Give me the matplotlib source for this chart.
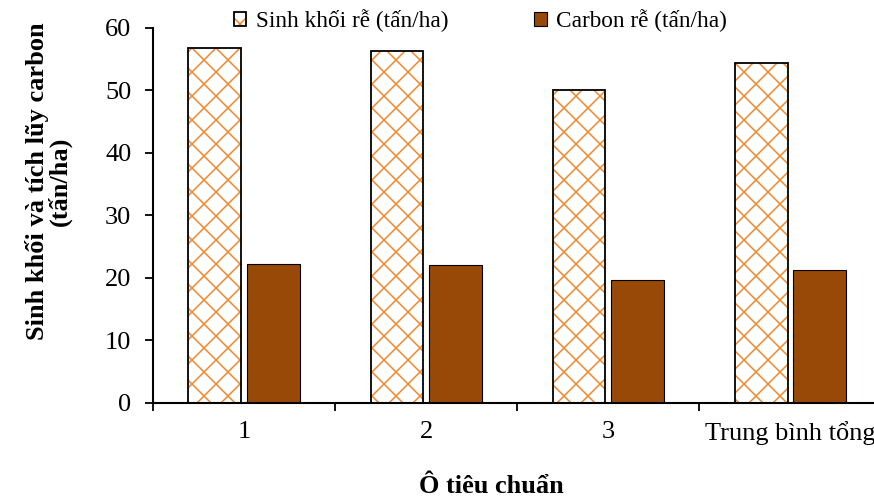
import matplotlib.pyplot as plt
from matplotlib.patches import Patch
import numpy as np

# drawn at 72 dpi so the hatch cell is 72 px wide; S converts sizes
DPI = 72
S = 100 / DPI

plt.rcParams['font.family'] = ['Liberation Serif', 'DejaVu Serif']
plt.rcParams['hatch.linewidth'] = 1.1 * S

# Root biomass and carbon per plot (tons/ha)
categories = ['1', '2', '3', 'Trung bình tổng']
sinh_khoi = [56.8, 56.3, 50.1, 54.4]
carbon = [22.2, 22.1, 19.7, 21.3]

orange = '#F2872F'
brown = '#984807'

fig = plt.figure(figsize=(874 / DPI, 498 / DPI), dpi=DPI)
ax = fig.add_axes([0.175, 0.191, 0.825, 0.753])

x = np.arange(len(categories))
w = 0.29
off = 0.16

# hatched biomass bars: hatch layer first, black outline on top
ax.bar(x - off, sinh_khoi, w, color='white', edgecolor=orange, hatch='x', linewidth=0)
ax.bar(x - off, sinh_khoi, w, fill=False, edgecolor='black', linewidth=1.3 * S)
ax.bar(x + off, carbon, w, color=brown, edgecolor='black', linewidth=0.8 * S)

ax.set_xlim(-0.5, 3.46)
ax.set_ylim(0, 60)
ax.set_yticks(range(0, 61, 10))
ax.set_xticks(np.arange(-0.5, 3.5, 1.0), minor=False)
ax.set_xticklabels([])
ax.set_xticks(x, minor=True)
ax.set_xticklabels(categories, minor=True)
ax.tick_params(axis='x', which='minor', length=0, labelsize=19 * S, pad=13 * S)
ax.tick_params(axis='x', which='major', length=5.5 * S, width=1.3 * S, direction='out')
ax.tick_params(axis='y', length=5.5 * S, width=1.3 * S, labelsize=19 * S, direction='out', pad=10 * S)

for s in ['top', 'right']:
    ax.spines[s].set_visible(False)
for s in ['left', 'bottom']:
    ax.spines[s].set_linewidth(1.5 * S)

ax.set_ylabel('Sinh khối và tích lũy carbon\n(tấn/ha)', fontsize=19 * S, fontweight='bold',
              linespacing=0.95)
ax.yaxis.set_label_coords(-0.112, 0.592)
ax.set_xlabel('Ô tiêu chuẩn', fontsize=19 * S, fontweight='bold')
ax.xaxis.set_label_coords(0.47, -0.193)

h1 = (Patch(facecolor='white', edgecolor=orange, hatch='x', linewidth=0),
      Patch(fill=False, edgecolor='black', linewidth=1.3 * S))
h2 = Patch(facecolor=brown, edgecolor='black', linewidth=0.8 * S)
ax.legend([h1, h2], ['Sinh khối rễ (tấn/ha)', 'Carbon rễ (tấn/ha)'], ncol=2,
          loc='center', bbox_to_anchor=(0.454, 1.02), frameon=False, fontsize=16.7 * S,
          handlelength=0.55, handleheight=0.55, handletextpad=0.4, columnspacing=3.7)

plt.savefig('out.png', dpi=DPI)
